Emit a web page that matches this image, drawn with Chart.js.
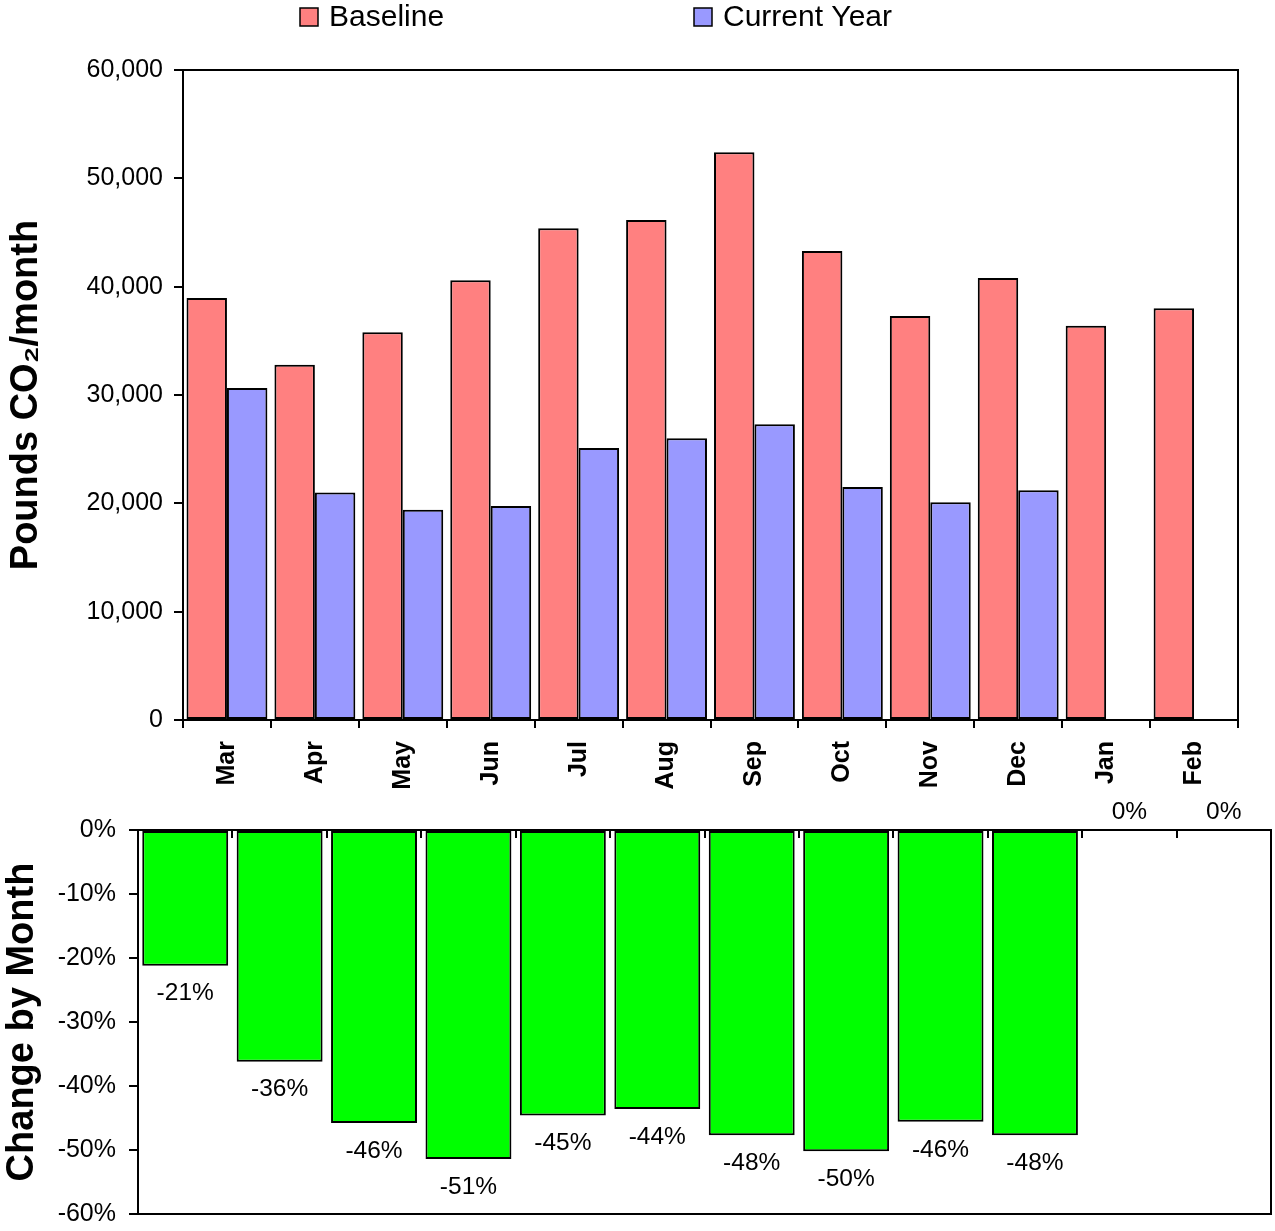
<!DOCTYPE html>
<html>
<head>
<meta charset="utf-8">
<title>Monthly CO₂ – Baseline vs Current Year</title>
<script src="https://cdn.jsdelivr.net/npm/chart.js@4/dist/chart.umd.min.js"></script>
<style>
  html, body { margin: 0; padding: 0; background: #ffffff; }
  #wrap { position: relative; width: 1275px; height: 1231px; }
  #topChart { position: absolute; left: 0; top: 0; }
  #bottomChart { position: absolute; left: 0; top: 790px; }
</style>
</head>
<body>
<div id="wrap">
  <canvas id="topChart" width="1275" height="790"></canvas>
  <canvas id="bottomChart" width="1275" height="441"></canvas>
</div>
<script>
// Months of the reporting year
const months = ['Mar', 'Apr', 'May', 'Jun', 'Jul', 'Aug', 'Sep', 'Oct', 'Nov', 'Dec', 'Jan', 'Feb'];

// Pounds of CO2 per month
const baseline    = [38950, 32800, 35800, 40600, 45400, 46150, 52400, 43300, 37300, 40800, 36400, 38000];
const currentYear = [30650, 21000, 19400, 19750, 25100, 26000, 27300, 21500, 20100, 21200, null, null];

// Percent change from baseline, month by month
const changePct = [-21.2, -36.2, -45.8, -51.4, -44.6, -43.6, -47.7, -50.2, -45.6, -47.7, 0, 0];

// Axis ticks
const poundTicks  = [0, 10000, 20000, 30000, 40000, 50000, 60000];
const changeTicks = [0, -10, -20, -30, -40, -50, -60];

const seriesNames = ['Baseline', 'Current Year'];
const COLORS = { baseline: '#FF8080', current: '#9999FF', change: '#00FF00', ink: '#000000' };
const FONT = '"Liberation Sans", Arial, Helvetica, sans-serif';

Chart.defaults.font.family = FONT;
Chart.defaults.color = COLORS.ink;

// Closes the plot area with a top and right edge (and bottom when asked)
const frame = {
  id: 'frame',
  afterDraw(chart) {
    const { ctx, chartArea: a } = chart;
    ctx.save();
    ctx.strokeStyle = COLORS.ink;
    ctx.lineWidth = 2;
    ctx.beginPath();
    ctx.moveTo(a.left, a.top);
    ctx.lineTo(a.right, a.top);
    ctx.lineTo(a.right, a.bottom);
    if (chart.options.plugins.frame && chart.options.plugins.frame.full) {
      ctx.lineTo(a.left, a.bottom);
    }
    ctx.stroke();
    ctx.restore();
  }
};

// Legend row across the top, swatch plus name for each series
const topLegend = {
  id: 'topLegend',
  afterDraw(chart, args, opts) {
    const { ctx } = chart;
    ctx.save();
    ctx.font = '30px ' + FONT;
    ctx.textBaseline = 'middle';
    ctx.textAlign = 'left';
    chart.data.datasets.forEach((ds, i) => {
      const x = opts.positions[i];
      ctx.fillStyle = ds.backgroundColor;
      ctx.fillRect(x, 8, 18, 18);
      ctx.strokeStyle = COLORS.ink;
      ctx.lineWidth = 1.5;
      ctx.strokeRect(x, 8, 18, 18);
      ctx.fillStyle = COLORS.ink;
      ctx.fillText(ds.label, x + 29, 18);
    });
    ctx.restore();
  }
};

// Upper panel: grouped bars
new Chart(document.getElementById('topChart'), {
  type: 'bar',
  data: {
    labels: months,
    datasets: [
      { label: seriesNames[0], data: baseline, backgroundColor: COLORS.baseline,
        borderColor: COLORS.ink, borderWidth: 2, borderSkipped: false },
      { label: seriesNames[1], data: currentYear, backgroundColor: COLORS.current,
        borderColor: COLORS.ink, borderWidth: 2, borderSkipped: false }
    ]
  },
  options: {
    responsive: false,
    animation: false,
    events: [],
    layout: { padding: { top: 70, right: 37, left: 0, bottom: 0 } },
    datasets: { bar: { barPercentage: 1.0, categoryPercentage: 0.92 } },
    plugins: {
      legend: { display: false },
      tooltip: { enabled: false },
      topLegend: { positions: [300, 694] },
      frame: { full: false }
    },
    scales: {
      x: {
        grid: { offset: true, drawOnChartArea: false, drawTicks: true, tickLength: 8,
                color: COLORS.ink, lineWidth: 2 },
        border: { display: true, color: COLORS.ink, width: 2 },
        ticks: { minRotation: 90, maxRotation: 90, autoSkip: false, padding: 13,
                 font: { size: 25, weight: 'bold' }, color: COLORS.ink },
        afterFit(scale) { scale.height = 70; }
      },
      y: {
        min: poundTicks[0],
        max: poundTicks[poundTicks.length - 1],
        afterBuildTicks(scale) { scale.ticks = poundTicks.map(v => ({ value: v })); },
        grid: { drawOnChartArea: false, drawTicks: true, tickLength: 9,
                color: COLORS.ink, lineWidth: 2 },
        border: { display: true, color: COLORS.ink, width: 2 },
        ticks: { padding: 11, font: { size: 25 }, color: COLORS.ink,
                 callback: v => Number(v).toLocaleString('en-US') },
        title: { display: true, text: 'Pounds CO₂/month', color: COLORS.ink,
                 font: { size: 38, weight: 'bold' }, padding: { top: 4, bottom: 0 } },
        afterFit(scale) { scale.width = 183; }
      }
    }
  },
  plugins: [frame, topLegend]
});

// Percent labels beneath each bar end (above the axis for a zero month)
const changeLabels = {
  id: 'changeLabels',
  afterDatasetsDraw(chart) {
    const { ctx } = chart;
    const meta = chart.getDatasetMeta(0);
    const values = chart.data.datasets[0].data;
    ctx.save();
    ctx.font = '24.5px ' + FONT;
    ctx.fillStyle = COLORS.ink;
    ctx.textAlign = 'center';
    ctx.textBaseline = 'middle';
    meta.data.forEach((bar, i) => {
      const v = values[i];
      const y = v < 0 ? bar.y + 28 : bar.y - 18;
      ctx.fillText(Math.round(v) + 0 + '%', bar.x, y);
    });
    ctx.restore();
  }
};

// Short inward ticks along the zero line at month boundaries
const zeroLineTicks = {
  id: 'zeroLineTicks',
  afterDraw(chart) {
    const { ctx } = chart;
    const x = chart.scales.x;
    const y0 = chart.scales.y.getPixelForValue(0);
    const step = x.width / chart.data.labels.length;
    ctx.save();
    ctx.strokeStyle = COLORS.ink;
    ctx.lineWidth = 2;
    ctx.beginPath();
    for (let i = 1; i < chart.data.labels.length; i++) {
      const px = Math.round(x.left + step * i);
      ctx.moveTo(px, y0);
      ctx.lineTo(px, y0 + 8);
    }
    ctx.stroke();
    ctx.restore();
  }
};

// Lower panel: percent change by month
new Chart(document.getElementById('bottomChart'), {
  type: 'bar',
  data: {
    labels: months,
    datasets: [
      { label: 'Change by Month', data: changePct, backgroundColor: COLORS.change,
        borderColor: COLORS.ink, borderSkipped: false,
        borderWidth: c => (c.raw === 0 ? 0 : 2) }
    ]
  },
  options: {
    responsive: false,
    animation: false,
    events: [],
    layout: { padding: { top: 40, right: 4, left: 0, bottom: 17 } },
    datasets: { bar: { barPercentage: 1.0, categoryPercentage: 0.91 } },
    plugins: {
      legend: { display: false },
      tooltip: { enabled: false },
      frame: { full: true }
    },
    scales: {
      x: { display: false },
      y: {
        min: changeTicks[changeTicks.length - 1],
        max: changeTicks[0],
        afterBuildTicks(scale) { scale.ticks = changeTicks.slice().reverse().map(v => ({ value: v })); },
        grid: { drawOnChartArea: false, drawTicks: true, tickLength: 9,
                color: COLORS.ink, lineWidth: 2 },
        border: { display: true, color: COLORS.ink, width: 2 },
        ticks: { padding: 13, font: { size: 25 }, color: COLORS.ink,
                 callback: v => v + '%' },
        title: { display: true, text: 'Change by Month', color: COLORS.ink,
                 font: { size: 38, weight: 'bold' }, padding: { top: 0, bottom: 0 } },
        afterFit(scale) {
          scale.width = 138;
          // plot edges are set by the layout padding alone
          scale.paddingTop = 0;
          scale.paddingBottom = 0;
        }
      }
    }
  },
  plugins: [frame, changeLabels, zeroLineTicks]
});
</script>
</body>
</html>
